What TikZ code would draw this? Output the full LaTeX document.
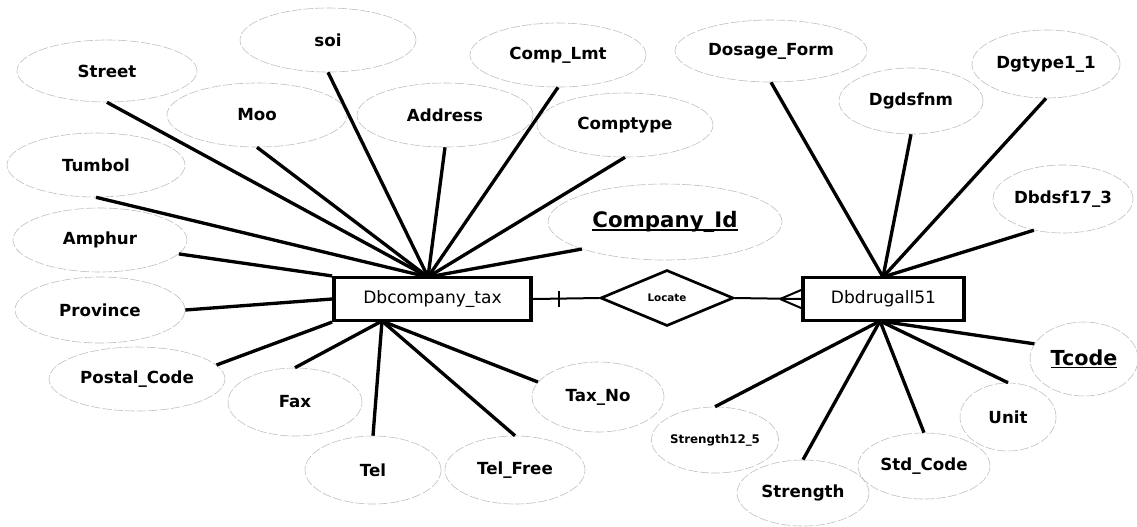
\documentclass[tikz,border=0pt]{standalone}
\usepackage{fontspec}
\setmainfont{DejaVu Sans}
\usetikzlibrary{shapes.geometric,calc}

% key attribute: text with a rule set close under the baseline
\newcommand{\keyattr}[1]{\setbox0=\hbox{#1}\rlap{\copy0}\rule[-2.2pt]{\wd0}{1.1pt}}

\tikzset{
  attr/.style={ellipse, draw=gray!50, line width=0.45pt,
    dash pattern=on 7pt off 1.6pt, inner sep=0pt, text=black,
    font=\fontsize{12.5}{14}\selectfont\bfseries},
  ell/.style 2 args={minimum width=0.75*#1pt, minimum height=0.75*#2pt},
  entity/.style={rectangle, draw=black, line width=2.6pt, inner sep=0pt,
    minimum height=32pt, font=\fontsize{12.8}{14}\selectfont},
  rel/.style={diamond, draw=black, line width=2pt, inner sep=0pt,
    minimum width=99.75pt, minimum height=42pt,
    font=\fontsize{7.8}{9}\selectfont\bfseries},
  link/.style={line width=2.5pt},
  rlink/.style={line width=1.5pt},
}

\begin{document}
\begin{tikzpicture}[x=0.75pt, y=-0.75pt]
\useasboundingbox (0,0) rectangle (1137,526);

% entities and relationship
\node[entity, minimum width=148pt] (company) at (432.5,299) {Dbcompany\_tax};
\node[entity, minimum width=121pt] (drug) at (883.5,299) {Dbdrugall51};
\node[rel] (locate) at (667,298) {Locate};

% hubs where attribute lines meet the entity boxes
\coordinate (ctop) at (428,277);
\coordinate (cbot) at (382,321);
\coordinate (dtop) at (883,277);
\coordinate (dbot) at (880,321);

% attributes of Dbcompany_tax
\node[attr, ell={180}{62}] (street) at (107,71) {Street};
\node[attr, ell={176}{64}] (soi) at (328,40) {soi};
\node[attr, ell={180}{64}] (moo) at (257,115) {Moo};
\node[attr, ell={176}{64}] (address) at (445,115) {Address};
\node[attr, ell={176}{64}] (complmt) at (558,55) {Comp\_Lmt};
\node[attr, ell={176}{64}] (comptype) at (625,125) {Comptype};
\node[attr, ell={178}{64}] (tumbol) at (96,165) {Tumbol};
\node[attr, ell={174}{64}] (amphur) at (100,240) {Amphur};
\node[attr, ell={170}{66}] (province) at (100,310) {Province};
\node[attr, ell={176}{64}] (postal) at (137,379) {Postal\_Code};
\node[attr, ell={134}{68}] (fax) at (295,402) {Fax};
\node[attr, ell={136}{68}] (tel) at (373,470) {Tel};
\node[attr, ell={140}{68}] (telfree) at (515,470) {Tel\_Free};
\node[attr, ell={132}{70}] (taxno) at (598,397) {Tax\_No};
\node[attr, ell={234}{76}, font=\fontsize{16}{18}\selectfont\bfseries] (companyid) at (665,222) {\keyattr{Company\_Id}};

% attributes of Dbdrugall51
\node[attr, ell={192}{62}] (dosage) at (771,51) {Dosage\_Form};
\node[attr, ell={144}{66}] (dgdsfnm) at (911,101) {Dgdsfnm};
\node[attr, ell={148}{68}] (dgtype) at (1046,64) {Dgtype1\_1};
\node[attr, ell={140}{68}] (dbdsf) at (1063,199) {Dbdsf17\_3};
\node[attr, ell={108}{74}, font=\fontsize{15.5}{18}\selectfont\bfseries] (tcode) at (1084,359) {\keyattr{Tcode}};
\node[attr, ell={96}{68}] (unit) at (1008,417) {Unit};
\node[attr, ell={132}{66}] (stdcode) at (924,466) {Std\_Code};
\node[attr, ell={132}{66}] (strength) at (803,493) {Strength};
\node[attr, ell={124}{66}, font=\fontsize{8.9}{10}\selectfont\bfseries] (strength125) at (715,440) {Strength12\_5};

% connectors of Dbcompany_tax
\draw[link] (street.south) -- (ctop);
\draw[link] (soi.south) -- (ctop);
\draw[link] (moo.south) -- (ctop);
\draw[link] (address.south) -- (ctop);
\draw[link] (complmt.south) -- (ctop);
\draw[link] (comptype.south) -- (ctop);
\draw[link] (tumbol.south) -- (ctop);
\draw[link] (companyid.198) -- (ctop);
\draw[link] (amphur.-10) -- (company.north west);
\draw[link] (province.east) -- (company.west);
\draw[link] (postal.10) -- (company.south west);
\draw[link] (fax.north) -- (cbot);
\draw[link] (tel.north) -- (cbot);
\draw[link] (telfree.north) -- (cbot);
\draw[link] (taxno.166) -- (cbot);

% connectors of Dbdrugall51
\draw[link] (dosage.south) -- (dtop);
\draw[link] (dgdsfnm.south) -- (dtop);
\draw[link] (dgtype.south) -- (dtop);
\draw[link] (dbdsf.-133) -- (dtop);
\draw[link] (tcode.163) -- (dbot);
\draw[link] (unit.north) -- (dbot);
\draw[link] (stdcode.north) -- (dbot);
\draw[link] (strength.north) -- (dbot);
\draw[link] (strength125.north) -- (dbot);

% relationship: one side with a bar, many side with a crow's foot
\draw[rlink] (company.east) -- (locate.west);
\coordinate (bar) at ($(company.east)!0.4!(locate.west)$);
\draw[rlink] ($(bar)+(0,-8)$) -- ($(bar)+(0,8)$);
\draw[rlink] (locate.east) -- (drug.west);
\coordinate (foot) at ($(drug.west)+(-21,0)$);
\draw[rlink] (foot) -- ($(drug.west)+(0,-9)$);
\draw[rlink] (foot) -- ($(drug.west)+(0,9)$);
\end{tikzpicture}
\end{document}
